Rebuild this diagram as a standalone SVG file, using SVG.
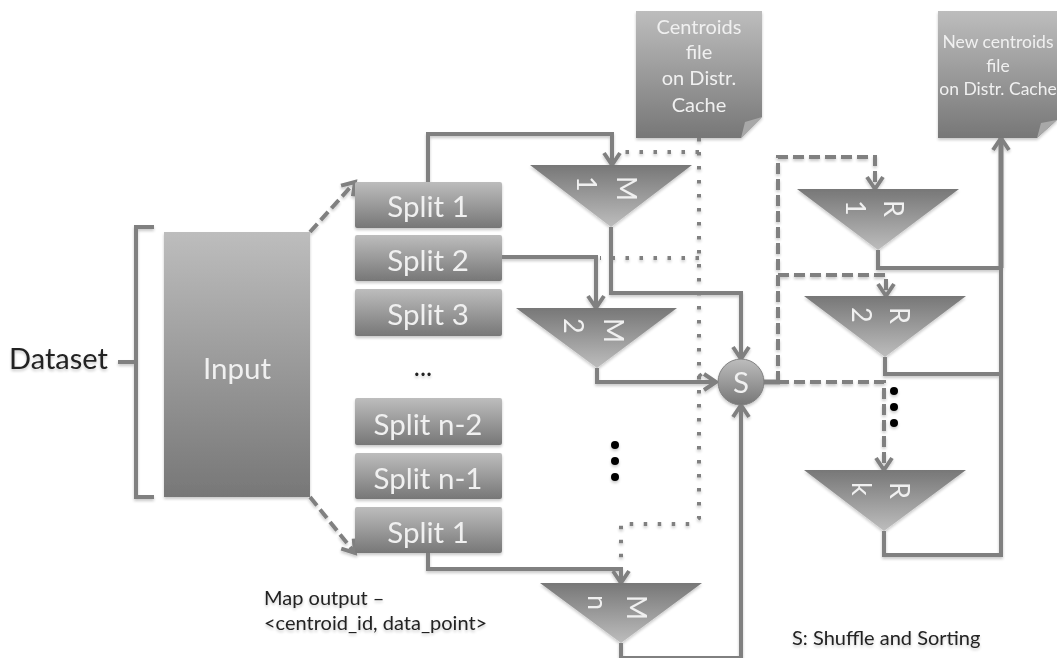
<svg xmlns="http://www.w3.org/2000/svg" width="1057" height="658" viewBox="0 0 1057 658">
<style>
text{font-family:Lato,"Open Sans","Liberation Sans",sans-serif}
.w{fill:#f0f0f0;text-anchor:middle}
.s{font-size:29.5px}
.f{font-size:20px}
.n{font-size:17.5px}
.t{font-size:27px;fill:#f0f0f0}
.k{fill:#222}
.c{fill:none;stroke:#808080;stroke-width:4}
.dash{stroke-dasharray:11 5}
.dot{stroke-width:4;stroke-dasharray:3.5 10.5}
.dots{fill:#000}
</style>
<defs>
<linearGradient id="down" x1="0" y1="0" x2="0" y2="1"><stop offset="0" stop-color="#bdbdbd"/><stop offset="1" stop-color="#777"/></linearGradient>
<linearGradient id="up" x1="0" y1="0" x2="0" y2="1"><stop offset="0" stop-color="#777"/><stop offset="1" stop-color="#bdbdbd"/></linearGradient>
<marker id="a" markerUnits="userSpaceOnUse" markerWidth="22" markerHeight="22" refX="18" refY="11" orient="auto"><path d="M6 3L18 11L6 19" fill="none" stroke="#808080" stroke-width="4"/></marker>
<filter id="soft" x="-5%" y="-5%" width="110%" height="110%">
<feGaussianBlur in="SourceAlpha" stdDeviation="1.5" result="b"/>
<feOffset in="b" dy="1.5" result="o"/>
<feComponentTransfer in="o" result="sh"><feFuncA type="linear" slope="0.22"/></feComponentTransfer>
<feGaussianBlur in="SourceGraphic" stdDeviation="0.55" result="g"/>
<feMerge><feMergeNode in="sh"/><feMergeNode in="g"/></feMerge>
</filter>
</defs>
<rect width="1057" height="658" fill="#fff"/>
<g filter="url(#soft)">
<g id="connectors">
<path class="c" d="M428 182V134H612V165" marker-end="url(#a)"/>
<path class="c" d="M502 257H596V308" marker-end="url(#a)"/>
<path class="c" d="M611 227V293H741V359" marker-end="url(#a)"/>
<path class="c" d="M597 368V382H716" marker-end="url(#a)"/>
<path class="c" d="M428 553V569H621V583" marker-end="url(#a)"/>
<path class="c" d="M621 643V658H741V405" marker-end="url(#a)"/>
<path class="c dot" d="M699 138V518L692 524H621V583"/>
<path class="c dot" d="M699 152H616"/>
<path class="c dot" d="M699 258H600"/>
<path class="c dot" d="M699 374L706 382"/>
<path class="c" style="stroke-width:5" d="M762 382H780"/>
<path class="c dash" d="M778 382V157H875V189" marker-end="url(#a)"/>
<path class="c dash" d="M778 275H886V296" marker-end="url(#a)"/>
<path class="c dash" d="M778 382H884V470" marker-end="url(#a)"/>
<path class="c" d="M878 250V268H1001"/>
<path class="c" d="M885 357V374H1001"/>
<path class="c" d="M884 531V555H1001V268"/>
<path class="c" style="stroke-width:5" d="M1001 268V138" marker-end="url(#a)"/>
<path class="c" d="M154 227H136V497H154"/>
<path class="c" d="M118 362H136"/>
<path class="c dash" d="M310 232L355 182" marker-end="url(#a)"/>
<path class="c dash" d="M310 497L355 553" marker-end="url(#a)"/>
</g>
<g id="input"><rect x="164" y="232" width="146" height="265" fill="url(#down)"/><text class="w s" x="237" y="379">Input</text></g>
<g id="split1"><rect x="355" y="182" width="147" height="46" rx="2" fill="url(#down)"/><text class="w s" x="428" y="217">Split 1</text></g>
<g id="split2"><rect x="355" y="235" width="147" height="46" rx="2" fill="url(#down)"/><text class="w s" x="428" y="271">Split 2</text></g>
<g id="split3"><rect x="355" y="289" width="147" height="47" rx="2" fill="url(#down)"/><text class="w s" x="428" y="325">Split 3</text></g>
<g id="splitn2"><rect x="355" y="398" width="147" height="47" rx="2" fill="url(#down)"/><text class="w s" x="428" y="435">Split n-2</text></g>
<g id="splitn1"><rect x="355" y="453" width="147" height="46" rx="2" fill="url(#down)"/><text class="w s" x="428" y="489">Split n-1</text></g>
<g id="splitlast"><rect x="355" y="507" width="147" height="46" rx="2" fill="url(#down)"/><text class="w s" x="428" y="543">Split 1</text></g>
<g id="centroids"><path d="M636 11H762V117L741 138H636Z" fill="url(#down)"/><path d="M741 138L745 122L762 117Z" fill="#a8a8a8"/>
<text class="w f" x="699" y="34">Centroids</text><text class="w f" x="699" y="59">file</text><text class="w f" x="699" y="85">on Distr.</text><text class="w f" x="699" y="112">Cache</text></g>
<g id="newcentroids"><path d="M938 11H1057V120L1037 138H938Z" fill="url(#down)"/><path d="M1037 138L1041 123L1057 120Z" fill="#a8a8a8"/>
<text class="w n" x="998" y="48">New centroids</text><text class="w n" x="998" y="72">file</text><text class="w n" x="998" y="95">on Distr. Cache</text></g>
<g id="m1"><path d="M530 165H692L611 227Z" fill="url(#up)"/><text class="t" transform="translate(617 176) rotate(90)">M</text><text class="t" transform="translate(577 176) rotate(90)">1</text></g>
<g id="m2"><path d="M516 308H677L597 368Z" fill="url(#up)"/><text class="t" transform="translate(604 318) rotate(90)">M</text><text class="t" transform="translate(564 318) rotate(90)">2</text></g>
<g id="mn"><path d="M540 583H702L621 643Z" fill="url(#up)"/><text class="t" transform="translate(627 595) rotate(90)">M</text><text class="t" transform="translate(588 595) rotate(90)">n</text></g>
<g id="r1"><path d="M797 189H959L878 250Z" fill="url(#up)"/><text class="t" transform="translate(884 200) rotate(90)">R</text><text class="t" transform="translate(846 200) rotate(90)">1</text></g>
<g id="r2"><path d="M804 296H966L885 357Z" fill="url(#up)"/><text class="t" transform="translate(890 307) rotate(90)">R</text><text class="t" transform="translate(852 307) rotate(90)">2</text></g>
<g id="rk"><path d="M804 470H966L884 531Z" fill="url(#up)"/><text class="t" transform="translate(890 482) rotate(90)">R</text><text class="t" transform="translate(852 482) rotate(90)">k</text></g>
<g id="shuffle"><circle cx="741" cy="382" r="23" fill="url(#down)" stroke="#808080"/><text class="w s" x="741" y="393">S</text></g>
<g id="labels">
<text class="k" x="9" y="369" font-size="29">Dataset</text>
<text class="k" x="264" y="605" font-size="20">Map output –</text>
<text class="k" x="264" y="630" font-size="20">&lt;centroid_id, data_point&gt;</text>
<text class="k" x="792" y="645" font-size="20">S: Shuffle and Sorting</text>
<text class="k" x="423" y="376" font-size="26" text-anchor="middle">...</text>
</g>
<g id="ellipsis" class="dots">
<circle cx="615" cy="445" r="4"/><circle cx="615" cy="461" r="4"/><circle cx="615" cy="477" r="4"/>
<circle cx="894" cy="391" r="4"/><circle cx="894" cy="407" r="4"/><circle cx="894" cy="423" r="4"/>
</g>
</g>
</svg>
